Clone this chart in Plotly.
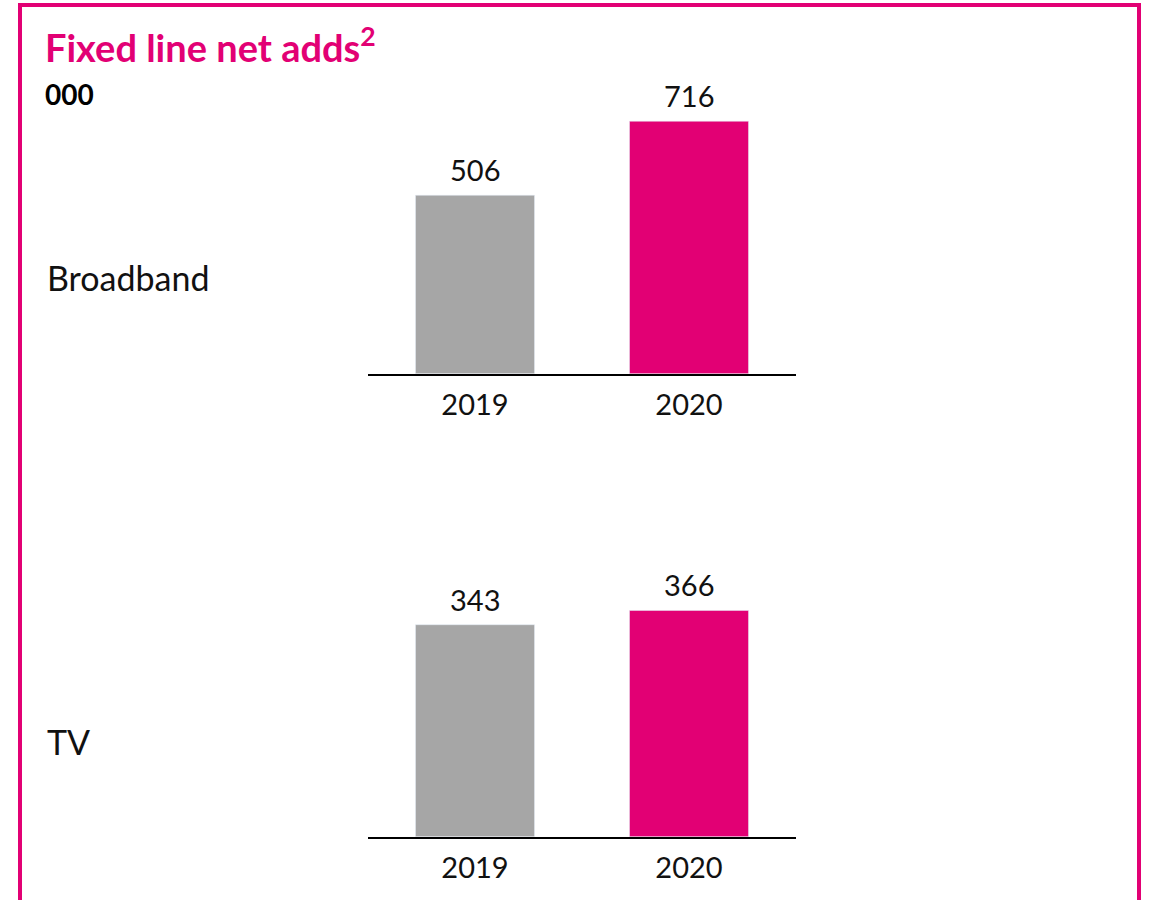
import plotly.graph_objects as go

years = ["2019", "2020"]
broadband = [506, 716]
tv = [343, 366]
bar_colors = ["#A6A6A6", "#E20074"]
row_labels = ["Broadband", "TV"]
title_text = "Fixed line net adds<sup>2</sup>"
unit_text = "000"

W, H = 1150, 900
PINK = "#E20074"
FONT = "Lato"
TXT = "#111111"

fig = go.Figure()

for vals, xa, ya in [(broadband, "x", "y"), (tv, "x2", "y2")]:
    fig.add_trace(go.Bar(x=years, y=vals, marker_color=bar_colors, width=0.556,
                         xaxis=xa, yaxis=ya, showlegend=False, hoverinfo="x+y"))
    for i, v in enumerate(vals):
        fig.add_annotation(text=str(v), x=i, y=v, xref=xa, yref=ya,
                           xanchor="center", yanchor="bottom", yshift=6,
                           showarrow=False, font=dict(size=29, color=TXT, family=FONT))

xdom = [368 / W, 796 / W]
axis_common = dict(type="category", showline=True, linecolor="#000000", linewidth=2, showgrid=False,
                   zeroline=False, ticks="", tickfont=dict(size=29, color=TXT, family=FONT),
                   range=[-0.5, 1.5], fixedrange=True, ticklabelstandoff=4)
fig.update_layout(
    width=W, height=H, margin=dict(l=0, r=0, t=0, b=0),
    paper_bgcolor="white", plot_bgcolor="white",
    font=dict(family=FONT, color=TXT),
    xaxis=dict(domain=xdom, anchor="y", **axis_common),
    xaxis2=dict(domain=xdom, anchor="y2", **axis_common),
    yaxis=dict(domain=[(H - 373.7) / H, (H - 90) / H], range=[0, 804.6], visible=False,
               anchor="x", fixedrange=True),
    yaxis2=dict(domain=[(H - 836.7) / H, (H - 560) / H], range=[0, 447.7], visible=False,
                anchor="x2", fixedrange=True),
)

# frame
fig.add_shape(type="rect", xref="paper", yref="paper",
              x0=20 / W, x1=1139 / W, y0=-0.05, y1=(H - 5) / H,
              line=dict(color=PINK, width=4), fillcolor="rgba(0,0,0,0)", layer="above")

fig.add_annotation(text=f"<b>{title_text}</b>", xref="paper", yref="paper",
                   x=43 / W, y=(H - 45) / H, xanchor="left", yanchor="middle",
                   showarrow=False, font=dict(size=38, color=PINK, family=FONT))
fig.add_annotation(text=f"<b>{unit_text}</b>", xref="paper", yref="paper",
                   x=43 / W, y=(H - 94) / H, xanchor="left", yanchor="middle",
                   showarrow=False, font=dict(size=28, color="#000000", family=FONT))
for lbl, yc in zip(row_labels, [277, 741]):
    fig.add_annotation(text=lbl, xref="paper", yref="paper",
                       x=45 / W, y=(H - yc) / H, xanchor="left", yanchor="middle",
                       showarrow=False, font=dict(size=34, color=TXT, family=FONT))

fig.write_html("out.html", config={"displayModeBar": False},
               post_script="document.body.style.margin='0';document.body.style.overflow='hidden';")
